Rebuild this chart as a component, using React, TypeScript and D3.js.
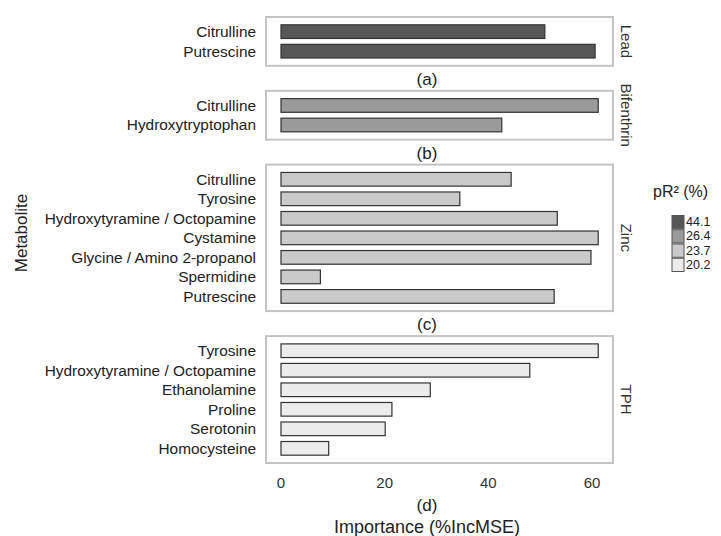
import React, { useEffect, useRef } from "react";
import * as d3 from "d3";

// panel (facet) definitions
const panelKeys = ["Lead", "Bifenthrin", "Zinc", "TPH"];
const panelTags = ["(a)", "(b)", "(c)", "(d)"];
const panelR2 = ["44.1", "26.4", "23.7", "20.2"];

const leadNames = ["Citrulline", "Putrescine"];
const leadValues = [50.9, 60.6];

const bifenthrinNames = ["Citrulline", "Hydroxytryptophan"];
const bifenthrinValues = [61.2, 42.6];

const zincNames = [
  "Citrulline",
  "Tyrosine",
  "Hydroxytyramine / Octopamine",
  "Cystamine",
  "Glycine / Amino 2-propanol",
  "Spermidine",
  "Putrescine",
];
const zincValues = [44.4, 34.5, 53.3, 61.2, 59.8, 7.6, 52.7];

const tphNames = [
  "Tyrosine",
  "Hydroxytyramine / Octopamine",
  "Ethanolamine",
  "Proline",
  "Serotonin",
  "Homocysteine",
];
const tphValues = [61.2, 48.0, 28.8, 21.4, 20.1, 9.2];

const xTicks = [0, 20, 40, 60];

const fills = ["#575757", "#9a9a9a", "#cacaca", "#ececec"];

const FONT = "Liberation Sans, Arial, Helvetica, sans-serif";

const App: React.FC = () => {
  const svgRef = useRef<SVGSVGElement | null>(null);

  useEffect(() => {
    if (!svgRef.current) return;
    const width = 721;
    const height = 536;

    const svg = d3.select(svgRef.current);
    svg.selectAll("*").remove();
    svg.attr("width", width).attr("height", height);

    const panels = [
      { names: leadNames, values: leadValues },
      { names: bifenthrinNames, values: bifenthrinValues },
      { names: zincNames, values: zincValues },
      { names: tphNames, values: tphValues },
    ];

    // layout
    const boxLeft = 266;
    const boxRight = 613;
    const top = 17;
    const bottom = 463;
    const gap = 25;
    const padIn = 0.3;
    const padOut = 0.4;
    const units = d3.sum(panels, (p) => p.names.length - padIn + 2 * padOut);
    const step = (bottom - top - gap * (panels.length - 1)) / units;

    const xScale = d3.scaleLinear().domain([0, 60]).range([281, 592]);

    let y0 = top;
    panels.forEach((p, i) => {
      const h = step * (p.names.length - padIn + 2 * padOut);
      const yScale = d3
        .scaleBand<number>()
        .domain(d3.range(p.names.length))
        .range([y0, y0 + h])
        .paddingInner(padIn)
        .paddingOuter(padOut);

      const g = svg.append("g");

      // panel border
      g.append("rect")
        .attr("x", boxLeft)
        .attr("y", y0)
        .attr("width", boxRight - boxLeft)
        .attr("height", h)
        .attr("fill", "none")
        .attr("stroke", "#c4c4c4")
        .attr("stroke-width", 2);

      // bars
      g.selectAll(".bar")
        .data(p.values)
        .enter()
        .append("rect")
        .attr("class", "bar")
        .attr("x", xScale(0))
        .attr("y", (_, j) => yScale(j) as number)
        .attr("width", (d) => xScale(d) - xScale(0))
        .attr("height", yScale.bandwidth())
        .attr("fill", fills[i])
        .attr("stroke", "#333")
        .attr("stroke-width", 1.2);

      // row labels
      g.selectAll(".lab")
        .data(p.names)
        .enter()
        .append("text")
        .attr("x", 256)
        .attr("y", (_, j) => (yScale(j) as number) + yScale.bandwidth() / 2)
        .attr("text-anchor", "end")
        .attr("dominant-baseline", "central")
        .attr("font-family", FONT)
        .attr("font-size", 15.4)
        .attr("fill", "#222")
        .text((d) => d);

      // strip label on the right
      g.append("text")
        .attr("transform", `translate(626,${y0 + h / 2}) rotate(90)`)
        .attr("text-anchor", "middle")
        .attr("dominant-baseline", "central")
        .attr("font-family", FONT)
        .attr("font-size", 15)
        .attr("fill", "#333")
        .text(panelKeys[i]);

      // panel tag
      const tagY = i < panels.length - 1 ? y0 + h + gap / 2 + 1 : 505;
      g.append("text")
        .attr("x", 427)
        .attr("y", tagY)
        .attr("text-anchor", "middle")
        .attr("dominant-baseline", "central")
        .attr("font-family", FONT)
        .attr("font-size", 17)
        .attr("fill", "#222")
        .text(panelTags[i]);

      y0 += h + gap;
    });

    // x tick labels
    svg
      .append("g")
      .selectAll("text")
      .data(xTicks)
      .enter()
      .append("text")
      .attr("x", (d) => xScale(d))
      .attr("y", 482)
      .attr("text-anchor", "middle")
      .attr("dominant-baseline", "central")
      .attr("font-family", FONT)
      .attr("font-size", 15)
      .attr("fill", "#333")
      .text((d) => d);

    // axis titles
    svg
      .append("text")
      .attr("x", 427)
      .attr("y", 527)
      .attr("text-anchor", "middle")
      .attr("dominant-baseline", "central")
      .attr("font-family", FONT)
      .attr("font-size", 18)
      .attr("fill", "#222")
      .text("Importance (%IncMSE)");

    svg
      .append("text")
      .attr("transform", "translate(21,233) rotate(-90)")
      .attr("text-anchor", "middle")
      .attr("dominant-baseline", "central")
      .attr("font-family", FONT)
      .attr("font-size", 17)
      .attr("fill", "#222")
      .text("Metabolite");

    // legend
    const legend = svg.append("g");
    legend
      .append("text")
      .attr("x", 653)
      .attr("y", 197)
      .attr("font-family", FONT)
      .attr("font-size", 16)
      .attr("fill", "#222")
      .text("pR² (%)");

    const keyScale = d3
      .scaleBand<number>()
      .domain(d3.range(panelR2.length))
      .range([215, 272]);

    legend
      .selectAll(".key")
      .data(panelR2)
      .enter()
      .append("rect")
      .attr("class", "key")
      .attr("x", 672)
      .attr("y", (_, i) => (keyScale(i) as number) + 0.5)
      .attr("width", 12)
      .attr("height", keyScale.bandwidth() - 1)
      .attr("fill", (_, i) => fills[i])
      .attr("stroke", "#555")
      .attr("stroke-width", 1);

    legend
      .selectAll(".klab")
      .data(panelR2)
      .enter()
      .append("text")
      .attr("x", 686)
      .attr("y", (_, i) => (keyScale(i) as number) + keyScale.bandwidth() / 2)
      .attr("dominant-baseline", "central")
      .attr("font-family", FONT)
      .attr("font-size", 12.5)
      .attr("fill", "#222")
      .text((d) => d);
  }, []);

  return (
    <div style={{ position: "absolute", left: 0, top: 0 }}>
      <svg ref={svgRef} style={{ display: "block", background: "#fff" }} />
    </div>
  );
};

export default App;
